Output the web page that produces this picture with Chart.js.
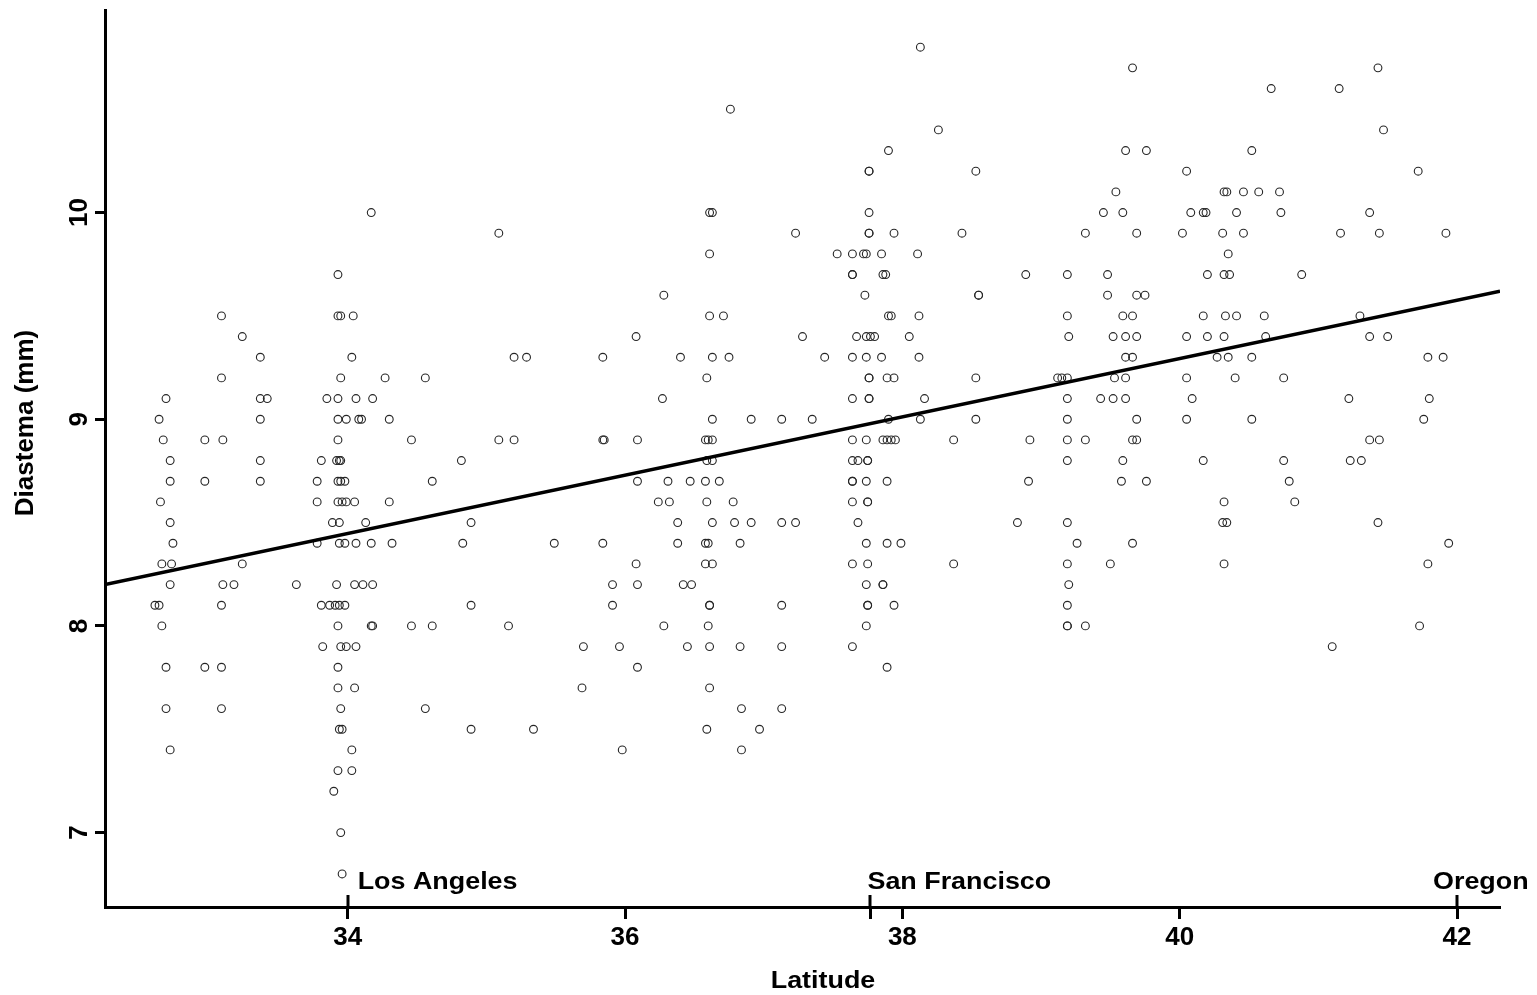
<!DOCTYPE html>
<html>
<head>
<meta charset="utf-8">
<script src="https://cdn.jsdelivr.net/npm/chart.js@4.4.1/dist/chart.umd.min.js"></script>
<style>
html,body{margin:0;padding:0;background:#fff;}
#wrap{width:1537px;height:995px;position:relative;}
</style>
</head>
<body>
<div id="wrap"><canvas id="c" width="1537" height="995"></canvas></div>
<script>
// ---- data ----
const xTickValues = [34, 36, 38, 40, 42];
const yTickValues = [7, 8, 9, 10];
const cityNames = ['Los Angeles', 'San Francisco', 'Oregon'];
const cityLatitudes = [34.0, 37.77, 42.0];
const fitLatitudes = [32.25, 42.31];
const fitDiastema = [8.2, 9.62];
const xLabel = 'Latitude';
const yLabel = 'Diastema (mm)';

const diastemaLevels = [10.8, 10.7, 10.6, 10.5, 10.4, 10.3, 10.2, 10.1, 10.0, 9.9, 9.8, 9.7, 9.6, 9.5, 9.4, 9.3, 9.2, 9.1, 9.0, 8.9, 8.8, 8.7, 8.6, 8.5, 8.4, 8.3, 8.2, 8.1, 8.0, 7.9, 7.8, 7.7, 7.6, 7.5, 7.4, 7.3, 7.2, 7.0, 6.8];
const latitudesAtLevel = [
  [38.13],
  [39.66, 41.43],
  [40.66, 41.15],
  [36.76],
  [38.26, 41.47],
  [37.90, 39.61, 39.76, 40.52],
  [37.76, 37.76, 38.53, 40.05, 41.72],
  [39.54, 40.32, 40.34, 40.46, 40.57, 40.72],
  [34.17, 36.61, 36.63, 37.76, 39.45, 39.59, 40.08, 40.17, 40.19, 40.41, 40.73, 41.37],
  [35.09, 37.23, 37.76, 37.76, 37.94, 38.43, 39.32, 39.69, 40.02, 40.31, 40.46, 41.16, 41.44, 41.92],
  [36.61, 37.53, 37.64, 37.72, 37.74, 37.85, 38.11, 40.35],
  [33.93, 37.64, 37.64, 37.86, 37.88, 38.89, 39.19, 39.48, 40.20, 40.32, 40.36, 40.88],
  [36.28, 37.73, 38.55, 38.55, 39.48, 39.69, 39.75],
  [33.09, 33.93, 33.95, 34.04, 36.61, 36.71, 37.90, 37.92, 38.12, 39.19, 39.59, 39.66, 40.17, 40.33, 40.41, 40.61, 41.30],
  [33.24, 36.08, 37.28, 37.67, 37.74, 37.77, 37.80, 38.05, 39.20, 39.52, 39.61, 39.69, 40.05, 40.20, 40.32, 40.62, 41.37, 41.50],
  [33.37, 34.03, 35.20, 35.29, 35.84, 36.40, 36.63, 36.75, 37.44, 37.64, 37.74, 37.85, 38.12, 39.61, 39.66, 40.27, 40.35, 40.52, 41.79, 41.90],
  [33.09, 33.95, 34.27, 34.56, 36.59, 37.76, 37.76, 37.89, 37.94, 38.53, 39.12, 39.15, 39.19, 39.53, 39.61, 40.05, 40.40, 40.75],
  [32.69, 33.37, 33.42, 33.85, 33.93, 34.06, 34.18, 36.27, 37.64, 37.76, 37.76, 38.16, 39.19, 39.43, 39.52, 39.61, 40.09, 41.22, 41.80],
  [32.64, 33.37, 33.93, 33.99, 34.08, 34.10, 34.30, 36.63, 36.91, 37.13, 37.35, 37.90, 38.13, 38.53, 39.19, 39.69, 40.05, 40.52, 41.76],
  [32.67, 32.97, 33.10, 33.93, 34.46, 35.09, 35.20, 35.84, 35.85, 36.09, 36.58, 36.60, 36.63, 37.64, 37.74, 37.86, 37.89, 37.92, 37.95, 38.37, 38.92, 39.19, 39.32, 39.66, 39.69, 41.37, 41.44],
  [32.72, 33.37, 33.81, 33.92, 33.94, 33.95, 34.82, 36.59, 36.63, 37.64, 37.68, 37.75, 37.75, 39.19, 39.59, 40.17, 40.75, 41.23, 41.31],
  [32.72, 32.97, 33.37, 33.78, 33.93, 33.95, 33.98, 34.61, 36.09, 36.31, 36.47, 36.58, 36.68, 37.64, 37.64, 37.74, 37.89, 38.91, 39.58, 39.76, 40.79],
  [32.65, 33.78, 33.93, 33.96, 33.99, 34.05, 34.30, 36.24, 36.32, 36.59, 36.78, 37.64, 37.75, 37.75, 40.32, 40.83],
  [32.72, 33.89, 33.94, 34.13, 34.89, 36.38, 36.63, 36.79, 36.91, 37.13, 37.23, 37.68, 38.83, 39.19, 40.31, 40.34, 41.43],
  [32.74, 33.78, 33.94, 33.98, 34.06, 34.17, 34.32, 34.83, 35.49, 35.84, 36.38, 36.58, 36.60, 36.83, 37.74, 37.89, 37.99, 39.26, 39.66, 41.94],
  [32.66, 32.73, 33.24, 36.08, 36.58, 36.63, 37.64, 37.75, 38.37, 39.19, 39.50, 40.32, 41.79],
  [32.72, 33.10, 33.18, 33.63, 33.92, 34.05, 34.11, 34.18, 35.91, 36.09, 36.42, 36.48, 37.74, 37.86, 37.86, 39.20],
  [32.61, 32.64, 33.09, 33.81, 33.87, 33.91, 33.94, 33.98, 34.89, 35.91, 36.61, 36.61, 37.13, 37.75, 37.75, 37.94, 39.19],
  [32.66, 33.93, 34.17, 34.18, 34.46, 34.61, 35.16, 36.28, 36.60, 37.74, 39.19, 39.19, 39.32, 41.73],
  [33.82, 33.95, 33.99, 34.06, 35.70, 35.96, 36.45, 36.61, 36.83, 37.13, 37.64, 41.10],
  [32.69, 32.97, 33.09, 33.93, 36.09, 37.89],
  [33.93, 34.05, 35.69, 36.61],
  [32.69, 33.09, 33.95, 34.56, 36.84, 37.13],
  [33.94, 33.96, 34.89, 35.34, 36.59, 36.97],
  [32.72, 34.03, 35.98, 36.84],
  [33.93, 34.03],
  [33.90],
  [33.95],
  [33.96]
];

// ---- build datasets from the arrays ----
const points = [];
diastemaLevels.forEach((d, i) => {
  latitudesAtLevel[i].forEach(lat => points.push({ x: lat, y: d }));
});
const fitLine = fitLatitudes.map((lat, i) => ({ x: lat, y: fitDiastema[i] }));

const FONT = '"Liberation Sans", Arial, Helvetica, sans-serif';

const decorPlugin = {
  id: 'decor',
  beforeDraw(chart) {
    const ctx = chart.ctx;
    ctx.save();
    ctx.fillStyle = '#ffffff';
    ctx.fillRect(0, 0, chart.width, chart.height);
    ctx.restore();
  },
  afterDraw(chart) {
    const ctx = chart.ctx;
    const xs = chart.scales.x;
    const area = chart.chartArea;
    ctx.save();
    ctx.fillStyle = '#000';
    ctx.strokeStyle = '#000';
    // city marks above the axis
    ctx.lineWidth = 3;
    cityLatitudes.forEach(lat => {
      const px = Math.round(xs.getPixelForValue(lat));
      ctx.beginPath();
      ctx.moveTo(px, area.bottom - 12);
      ctx.lineTo(px, area.bottom);
      ctx.stroke();
    });
    // city labels
    ctx.font = 'bold 24px ' + FONT;
    ctx.textBaseline = 'alphabetic';
    const offsets = [10, -3, -24];
    cityNames.forEach((name, i) => {
      const px = xs.getPixelForValue(cityLatitudes[i]) + offsets[i];
      ctx.save();
      ctx.translate(px, area.bottom - 18);
      ctx.scale(1.12, 1);
      ctx.textAlign = 'left';
      ctx.fillText(name, 0, 0);
      ctx.restore();
    });
    // x title
    ctx.save();
    ctx.translate(823, 981);
    ctx.scale(1.12, 1);
    ctx.textAlign = 'center';
    ctx.textBaseline = 'middle';
    ctx.font = 'bold 24px ' + FONT;
    ctx.fillText(xLabel, 0, 0);
    ctx.restore();
    // y title
    ctx.save();
    ctx.translate(26, 423);
    ctx.rotate(-Math.PI / 2);
    ctx.textAlign = 'center';
    ctx.textBaseline = 'middle';
    ctx.font = 'bold 26px ' + FONT;
    ctx.fillText(yLabel, 0, 0);
    ctx.restore();
    ctx.restore();
  }
};

new Chart(document.getElementById('c'), {
  type: 'scatter',
  data: {
    datasets: [
      {
        type: 'line',
        data: fitLine,
        borderColor: '#000',
        borderWidth: 3.5,
        pointRadius: 0,
        fill: false,
        order: 0
      },
      {
        type: 'scatter',
        data: points,
        pointStyle: 'circle',
        pointRadius: 3.9,
        borderWidth: 1.1,
        borderColor: '#262626',
        backgroundColor: 'rgba(255,255,255,0)',
        order: 1
      }
    ]
  },
  options: {
    responsive: false,
    animation: false,
    devicePixelRatio: 1,
    layout: { padding: { top: 10, right: 37, left: 0, bottom: 0 } },
    plugins: { legend: { display: false }, tooltip: { enabled: false } },
    scales: {
      x: {
        type: 'linear',
        position: 'bottom',
        min: 32.25,
        max: 42.31,
        afterBuildTicks: s => {
          s.ticks = [...xTickValues, cityLatitudes[1]].sort((a, b) => a - b).map(v => ({ value: v }));
        },
        afterFit: s => { s.height = 88; s.paddingLeft = 0; s.paddingRight = 0; },
        ticks: {
          autoSkip: false,
          maxRotation: 0,
          minRotation: 0,
          padding: 3,
          color: '#000',
          font: { family: FONT, size: 26, weight: 'bold' },
          callback: v => (xTickValues.includes(v) ? String(v) : '')
        },
        grid: {
          display: true,
          drawOnChartArea: false,
          drawTicks: true,
          tickLength: 12,
          tickWidth: 3,
          tickColor: '#000'
        },
        border: { display: true, color: '#000', width: 3 }
      },
      y: {
        type: 'linear',
        position: 'left',
        min: 6.64,
        max: 10.98,
        afterBuildTicks: s => { s.ticks = yTickValues.map(v => ({ value: v })); },
        afterFit: s => { s.width = 105; s.paddingTop = 0; s.paddingBottom = 0; },
        ticks: {
          autoSkip: false,
          minRotation: 90,
          maxRotation: 90,
          crossAlign: 'center',
          padding: 1,
          color: '#000',
          font: { family: FONT, size: 26, weight: 'bold' },
          callback: v => String(v)
        },
        grid: {
          display: true,
          drawOnChartArea: false,
          drawTicks: true,
          tickLength: 10,
          tickWidth: 3,
          tickColor: '#000'
        },
        border: { display: true, color: '#000', width: 3 }
      }
    }
  },
  plugins: [decorPlugin]
});
</script>
</body>
</html>
